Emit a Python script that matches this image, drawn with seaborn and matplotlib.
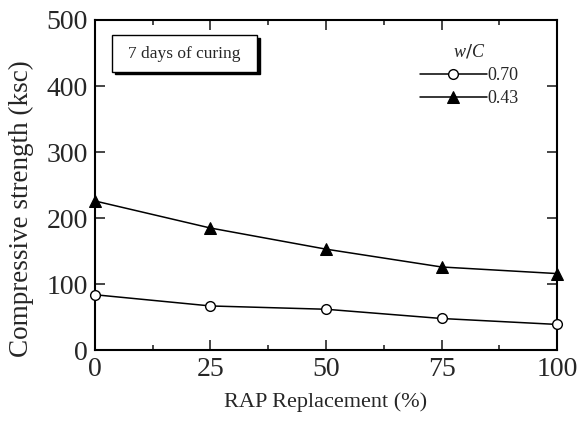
import pandas as pd
import numpy as np
import matplotlib
matplotlib.use('Agg')
import matplotlib.pyplot as plt
import seaborn as sns
from matplotlib.ticker import MultipleLocator
from matplotlib.patches import Rectangle

# Data
rap = [0, 25, 50, 75, 100]
strength_070 = [84, 67, 62, 48, 39]
strength_043 = [226, 185, 153, 126, 116]
wc_labels = ['0.70', '0.43']

sns.set_theme(style='ticks')
plt.rcParams['font.family'] = ['Liberation Serif', 'DejaVu Serif']
plt.rcParams['mathtext.fontset'] = 'custom'
plt.rcParams['mathtext.it'] = 'Liberation Serif:italic'

df = pd.DataFrame({
    'rap': rap * 2,
    'strength': strength_070 + strength_043,
    'wc': [wc_labels[0]] * len(rap) + [wc_labels[1]] * len(rap),
})

fig = plt.figure(figsize=(5.78, 4.25), dpi=100)
ax = fig.add_axes([0.164, 0.176, 0.800, 0.777])

sns.lineplot(data=df[df['wc'] == '0.70'], x='rap', y='strength', ax=ax,
             color='black', lw=1.1, marker='o', markersize=7,
             markerfacecolor='white', markeredgecolor='black', markeredgewidth=1.0,
             label='0.70', clip_on=False, zorder=5)
sns.lineplot(data=df[df['wc'] == '0.43'], x='rap', y='strength', ax=ax,
             color='black', lw=1.1, marker='^', markersize=8,
             markerfacecolor='black', markeredgecolor='black',
             label='0.43', clip_on=False, zorder=5)

ax.set_xlim(0, 100)
ax.set_ylim(0, 500)
ax.xaxis.set_major_locator(MultipleLocator(25))
ax.xaxis.set_minor_locator(MultipleLocator(12.5))
ax.yaxis.set_major_locator(MultipleLocator(100))
ax.tick_params(which='both', direction='in', top=True, right=True, width=1.2)
ax.tick_params(which='major', length=7, labelsize=20, pad=5)
ax.tick_params(which='minor', length=3.5)
for sp in ax.spines.values():
    sp.set_linewidth(1.5)
    sp.set_color('black')

ax.set_xlabel('RAP Replacement (%)', fontsize=16, labelpad=7)
ax.set_ylabel('Compressive strength (ksc)', fontsize=19.5)
ax.yaxis.set_label_coords(-0.132, 0.43)

# legend
leg = ax.legend(title='$\\mathit{w/C}$', loc='upper right', frameon=False,
                fontsize=13, title_fontsize=13, handlelength=3.7,
                handletextpad=0.05, labelspacing=0.35, borderpad=0.3,
                bbox_to_anchor=(0.948, 0.975))

# text box with drop shadow
ax.add_patch(Rectangle((4.4, 418), 31.4, 55, transform=ax.transData,
                       facecolor='black', edgecolor='black', zorder=3))
ax.add_patch(Rectangle((3.7, 421.5), 31.4, 55, transform=ax.transData,
                       facecolor='white', edgecolor='black', lw=1.0, zorder=4))
ax.text(19.4, 449, '7 days of curing', fontsize=12.5, va='center', ha='center',
        zorder=6)

fig.savefig('out.png', dpi=100)
